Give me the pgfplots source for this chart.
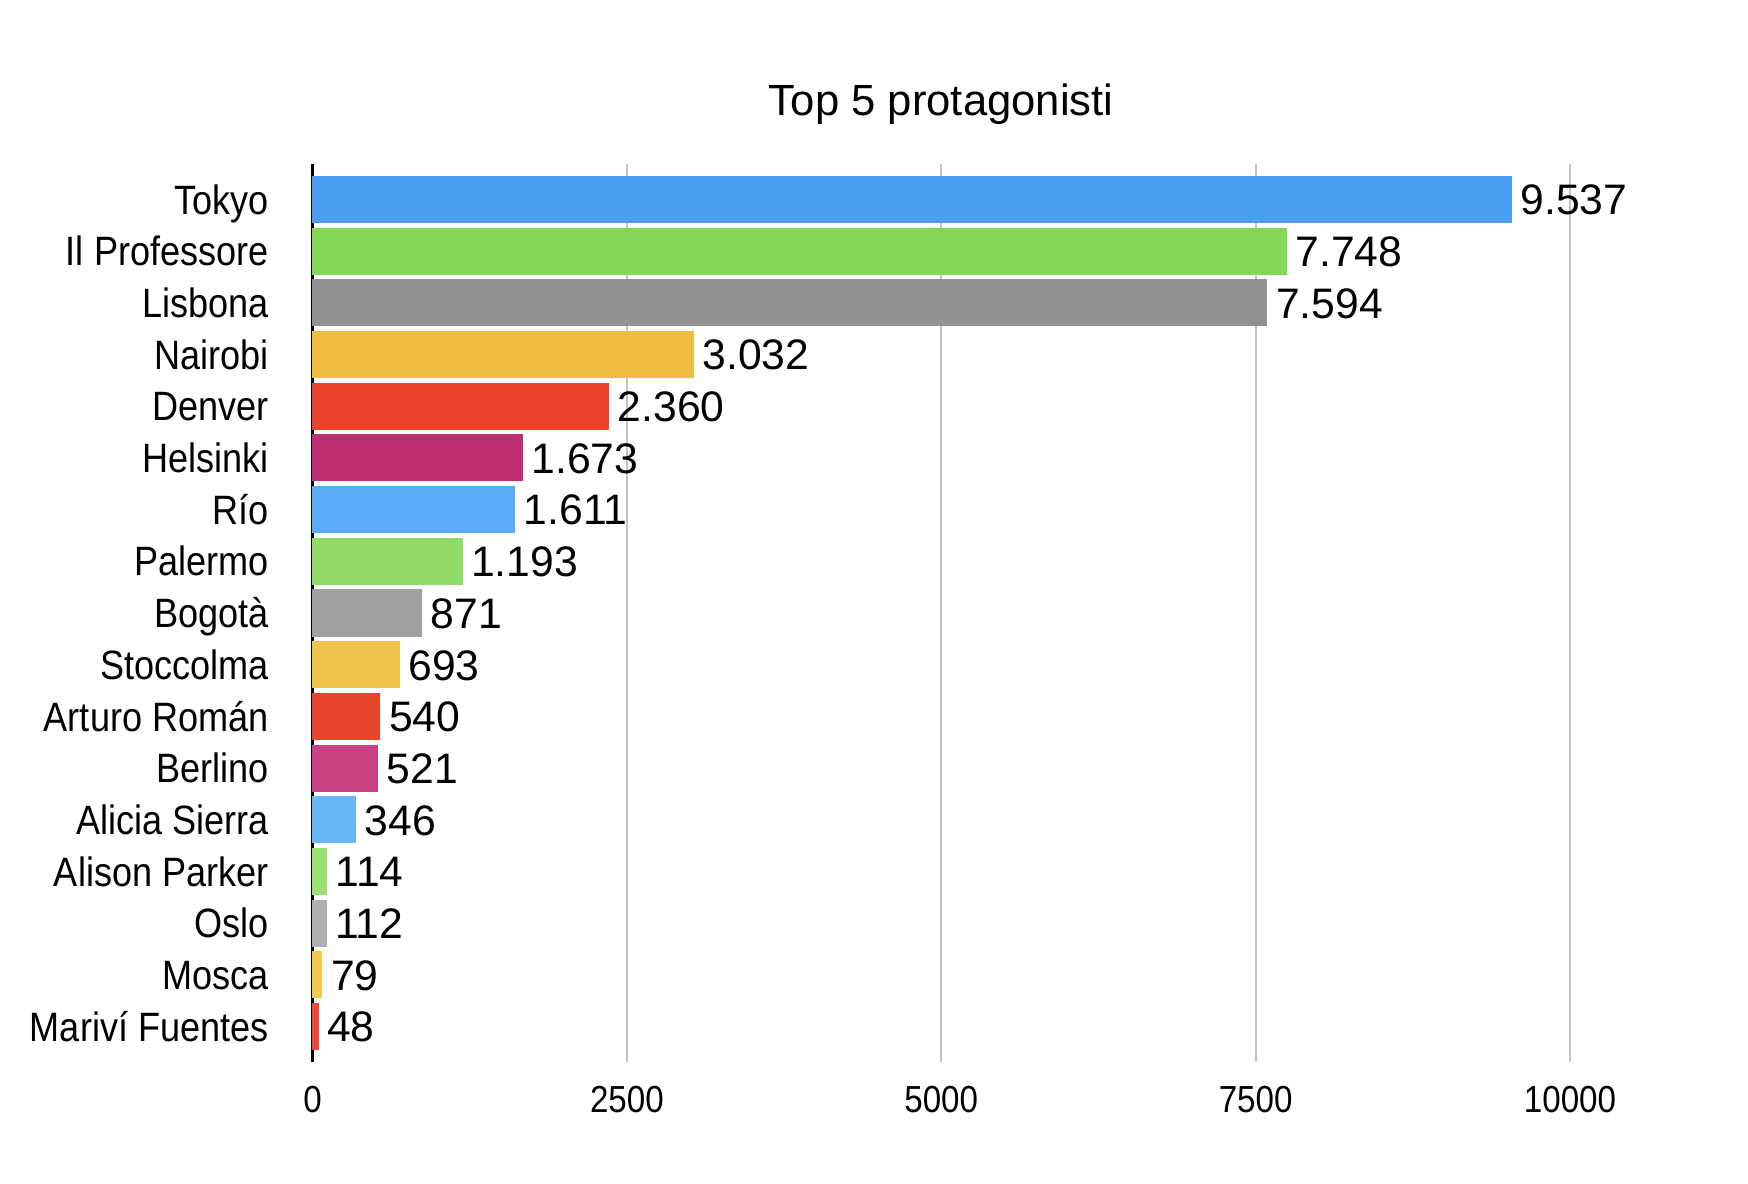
\documentclass[border=0pt]{standalone}
\usepackage{fontspec}
\setmainfont{Liberation Sans}
\newfontfamily\condensed[FakeStretch=0.88]{Liberation Sans}
\usepackage{pgfplots}
\pgfplotsset{compat=1.18}
\definecolor{c1}{HTML}{4A9FF5}
\definecolor{c2}{HTML}{84D656}
\definecolor{c3}{HTML}{929292}
\definecolor{c4}{HTML}{EEBD41}
\definecolor{c5}{HTML}{E94429}
\definecolor{c6}{HTML}{C02F73}
\definecolor{c7}{HTML}{57ABF7}
\definecolor{c8}{HTML}{8FDB65}
\definecolor{c9}{HTML}{A0A0A0}
\definecolor{c10}{HTML}{F1C54B}
\definecolor{c11}{HTML}{E84429}
\definecolor{c12}{HTML}{C64283}
\definecolor{c13}{HTML}{68B7F8}
\definecolor{c14}{HTML}{9BE073}
\definecolor{c15}{HTML}{AFAFAF}
\definecolor{c16}{HTML}{F2C94F}
\definecolor{c17}{HTML}{E94A33}
\definecolor{gridgray}{HTML}{C4C4C4}
\pgfplotsset{mybar/.style={xbar, fill=#1, draw=none, bar shift=0pt, bar width=14.1pt,
  point meta=explicit symbolic, nodes near coords,
  nodes near coords style={anchor=base west, inner sep=0pt, xshift=2.4pt, yshift=-4.6pt,
    font=\fontsize{12.8}{14}\selectfont, text=black}}}
\begin{document}
\begin{tikzpicture}
\begin{axis}[
  at={(0,0)}, anchor=south west,
  scale only axis, width=377.25pt, height=269.4pt,
  xmin=0, xmax=10000,
  ymin=-0.69, ymax=16.69, y dir=reverse,
  scaled x ticks=false,
  xtick={0,2500,5000,7500,10000},
  xticklabels={0,2500,5000,7500,10000},
  ytick={0,...,16},
  yticklabels={Tokyo, Il Professore, Lisbona, Nairobi, Denver, Helsinki, Río, Palermo, Bogotà, Stoccolma, Arturo Román, Berlino, Alicia Sierra, Alison Parker, Oslo, Mosca, Mariví Fuentes},
  major tick length=0pt,
  xmajorgrids=true,
  grid style={gridgray, line width=0.6pt},
  axis lines*=left,
  x axis line style={draw=none},
  y axis line style={black, line width=0.9pt},
  xticklabel style={anchor=north, inner sep=0pt, yshift=-7.2pt, font=\condensed\fontsize{11.3}{13}\selectfont},
  yticklabel style={anchor=base east, inner sep=0pt, xshift=-13pt, yshift=-4.4pt, font=\condensed\fontsize{12.3}{14}\selectfont},
  title={Top 5 protagonisti},
  title style={at={(0.5,1)}, anchor=base, yshift=8.5pt, inner sep=0pt, font=\fontsize{13.1}{15}\selectfont},
  clip=false,
]
\addplot[mybar=c1] coordinates {(9537,0) [9.537]};
\addplot[mybar=c2] coordinates {(7748,1) [7.748]};
\addplot[mybar=c3] coordinates {(7594,2) [7.594]};
\addplot[mybar=c4] coordinates {(3032,3) [3.032]};
\addplot[mybar=c5] coordinates {(2360,4) [2.360]};
\addplot[mybar=c6] coordinates {(1673,5) [1.673]};
\addplot[mybar=c7] coordinates {(1611,6) [1.611]};
\addplot[mybar=c8] coordinates {(1193,7) [1.193]};
\addplot[mybar=c9] coordinates {(871,8) [871]};
\addplot[mybar=c10] coordinates {(693,9) [693]};
\addplot[mybar=c11] coordinates {(540,10) [540]};
\addplot[mybar=c12] coordinates {(521,11) [521]};
\addplot[mybar=c13] coordinates {(346,12) [346]};
\addplot[mybar=c14] coordinates {(114,13) [114]};
\addplot[mybar=c15] coordinates {(112,14) [112]};
\addplot[mybar=c16] coordinates {(79,15) [79]};
\addplot[mybar=c17] coordinates {(48,16) [48]};
\end{axis}
\pgfresetboundingbox
\path[use as bounding box] (-93.75pt,-36.6pt) rectangle (430.65pt,318.6pt);
\end{tikzpicture}
\end{document}
